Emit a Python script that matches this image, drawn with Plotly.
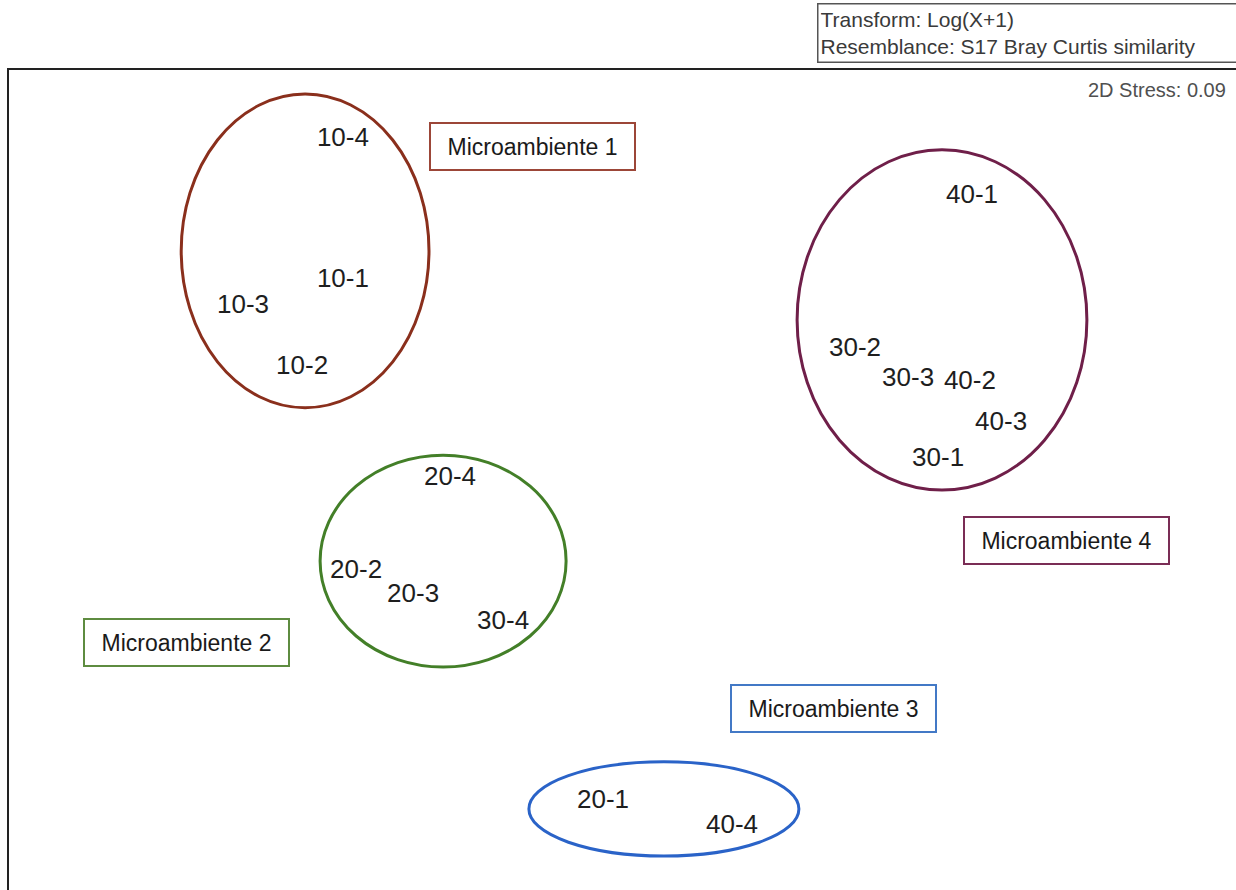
import plotly.graph_objects as go

# NMDS ordination coordinates of each sample (label = depth-replicate)
sample_labels = ["10-4", "10-1", "10-3", "10-2",
                 "20-4", "20-2", "20-3", "30-4",
                 "20-1", "40-4",
                 "40-1", "30-2", "30-3", "40-2", "40-3", "30-1"]
mds1 = [-0.887, -0.887, -1.220, -1.023,
        -0.530, -0.843, -0.653, -0.353,
        -0.020, 0.410,
        1.210, 0.820, 0.997, 1.203, 1.307, 1.097]
mds2 = [1.070, 0.597, 0.513, 0.310,
        -0.060, -0.370, -0.450, -0.540,
        -1.137, -1.220,
        0.877, 0.367, 0.267, 0.257, 0.123, 0.003]

# Group outlines: centre and semi-axes in ordination units
group_names = ["Microambiente 1", "Microambiente 2", "Microambiente 3", "Microambiente 4"]
ell_cx = [-1.013, -0.553, 0.183, 1.110]
ell_cy = [0.697, -0.337, -1.163, 0.467]
ell_rx = [0.413, 0.410, 0.450, 0.483]
ell_ry = [0.523, 0.353, 0.157, 0.567]
ell_colors = ["#8a2f1c", "#437f28", "#2a63c8", "#6f1f49"]
# Group name tags
tag_x = [-0.255, -1.410, 0.748, 1.525]
tag_y = [1.045, -0.608, -0.827, -0.268]
tag_colors = ["#9c4638", "#5e8c40", "#4379c6", "#7a2d55"]

X_RANGE = [-2.0, 2.09]
Y_RANGE = [-1.4333, 1.3]

FONT = "Liberation Sans, Arial, sans-serif"

fig = go.Figure()

fig.add_trace(go.Scatter(
    x=mds1, y=mds2, mode="text", text=sample_labels,
    textposition="middle center",
    textfont=dict(family=FONT, size=26, color="#1e1e1e"),
    hoverinfo="text", showlegend=False,
))

for cx, cy, rx, ry, col in zip(ell_cx, ell_cy, ell_rx, ell_ry, ell_colors):
    fig.add_shape(type="circle", xref="x", yref="y",
                  x0=cx - rx, x1=cx + rx, y0=cy - ry, y1=cy + ry,
                  line=dict(color=col, width=3))

for name, tx, ty, col in zip(group_names, tag_x, tag_y, tag_colors):
    fig.add_annotation(x=tx, y=ty, xref="x", yref="y", text=name, showarrow=False,
                       xanchor="center", yanchor="middle",
                       font=dict(family=FONT, size=23, color="#1a1a1a"),
                       bordercolor=col, borderwidth=2, borderpad=6, bgcolor="white",
                       width=191, height=33)

# Header box with transform / resemblance info
fig.add_annotation(x=0.6585, y=1.0817, xref="paper", yref="paper",
                   xanchor="left", yanchor="top", align="left", showarrow=False,
                   text="Transform: Log(X+1)<br>Resemblance: S17 Bray Curtis similarity",
                   font=dict(family=FONT, size=21, color="#3a3a3a"),
                   bordercolor="#555555", borderwidth=1.5, borderpad=2,
                   width=440, height=53)

fig.add_annotation(x=0.9935, y=0.9756, xref="paper", yref="paper",
                   xanchor="right", yanchor="middle", showarrow=False,
                   text="2D Stress: 0.09",
                   font=dict(family=FONT, size=20, color="#505050"))

fig.update_xaxes(range=X_RANGE, side="top", showline=True, linecolor="#222222", linewidth=1.5,
                 showgrid=False, zeroline=False, showticklabels=False, ticks="", fixedrange=True)
fig.update_yaxes(range=Y_RANGE, showline=True, linecolor="#222222", linewidth=1.5,
                 showgrid=False, zeroline=False, showticklabels=False, ticks="", fixedrange=True)

fig.update_layout(width=1236, height=890,
                  margin=dict(l=9, r=0, t=70, b=0),
                  paper_bgcolor="white", plot_bgcolor="white",
                  showlegend=False)

fig.write_html("out.html", config={"displayModeBar": False})
